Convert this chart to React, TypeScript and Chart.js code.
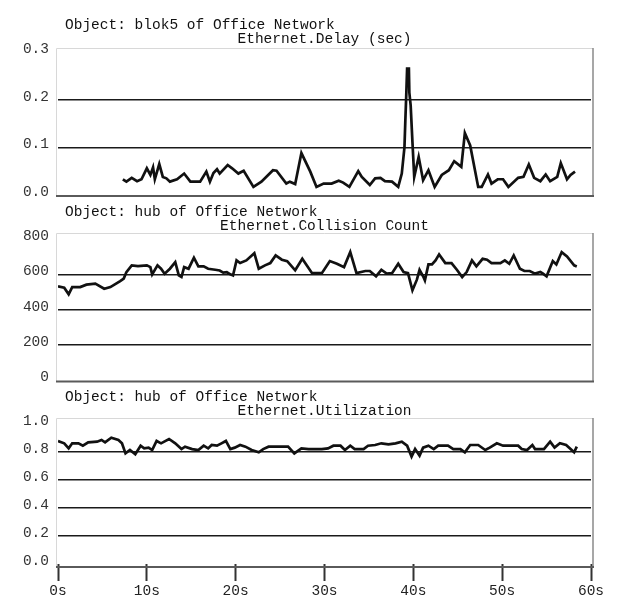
import React, { useEffect, useRef } from "react";
import { Chart, registerables } from "chart.js";

Chart.register(...registerables);

const FONT_FAMILY = "'Liberation Mono', 'DejaVu Sans Mono', monospace";

// Panel 1: Ethernet.Delay (sec)
const delayTimes = [
  7.3, 7.7, 8.3, 8.9, 9.4, 10.0, 10.4, 10.7, 10.9, 11.4, 11.8, 12.2, 12.6, 13.4, 14.2, 14.9,
  16.0, 16.7, 17.1, 17.5, 17.9, 18.2, 19.1, 19.6, 20.3, 20.9, 22.0, 22.9, 24.2, 24.6, 25.7,
  26.1, 26.7, 27.4, 28.4, 29.1, 29.9, 30.8, 31.6, 32.1, 32.8, 33.8, 34.2, 35.1, 35.7, 36.3,
  36.8, 37.6, 38.3, 38.7, 39.0, 39.1, 39.2, 39.3, 39.5, 39.55, 39.7, 39.9, 40.1, 40.6, 41.1,
  41.7, 42.4, 43.2, 44.0, 44.6, 45.4, 45.8, 46.4, 47.3, 47.7, 48.4, 48.8, 49.5, 50.1, 50.7,
  51.8, 52.4, 53.0, 53.6, 54.3, 54.9, 55.4, 56.2, 56.6, 57.3, 57.7, 58.2,
];
const delayValues = [
  0.033, 0.028, 0.036, 0.029, 0.033, 0.056, 0.042, 0.058, 0.033, 0.065, 0.038, 0.035, 0.028, 0.033, 0.045, 0.028,
  0.028, 0.049, 0.028, 0.046, 0.054, 0.045, 0.063, 0.056, 0.045, 0.051, 0.017, 0.028, 0.052, 0.051, 0.024,
  0.028, 0.023, 0.088, 0.049, 0.017, 0.024, 0.024, 0.030, 0.026, 0.017, 0.050, 0.038, 0.021, 0.035, 0.036,
  0.029, 0.028, 0.017, 0.045, 0.100, 0.156, 0.208, 0.265, 0.265, 0.215, 0.188, 0.111, 0.038, 0.080, 0.031,
  0.052, 0.017, 0.042, 0.052, 0.071, 0.059, 0.130, 0.104, 0.017, 0.017, 0.043, 0.024, 0.033, 0.033, 0.017,
  0.036, 0.038, 0.064, 0.036, 0.029, 0.043, 0.029, 0.038, 0.067, 0.033, 0.042, 0.049,
];

// Panel 2: Ethernet.Collision Count
const collisionTimes = [
  0.0, 0.7, 1.2, 1.6, 2.5, 3.2, 4.2, 5.2, 5.9, 7.0, 7.4, 7.7, 8.3, 9.0, 10.0, 10.4, 10.6, 11.2,
  11.6, 12.0, 12.6, 13.2, 13.6, 13.9, 14.2, 14.7, 15.3, 15.8, 16.4, 16.9, 17.7, 18.2, 18.6, 19.0,
  19.4, 19.7, 20.1, 20.5, 21.2, 22.1, 22.6, 23.3, 23.9, 24.5, 25.2, 25.8, 26.7, 27.5, 28.6, 29.7,
  30.6, 31.4, 32.2, 32.9, 33.6, 34.6, 35.1, 35.8, 36.4, 37.0, 37.6, 38.3, 38.9, 39.4, 39.9, 40.4,
  40.7, 41.1, 41.3, 41.7, 42.1, 42.5, 42.9, 43.6, 44.3, 44.9, 45.5, 46.0, 46.6, 47.1, 47.8, 48.3,
  48.8, 49.8, 50.3, 50.8, 51.3, 52.0, 52.5, 53.1, 53.7, 54.3, 54.6, 55.0, 55.7, 56.1, 56.7, 57.3,
  58.1, 58.4,
];
const collisionValues = [
  532, 525, 487, 528, 528, 542, 548, 519, 528, 562, 576, 613, 651, 647, 651, 641, 600, 651,
  632, 604, 632, 669, 594, 585, 641, 632, 694, 645, 645, 632, 626, 622, 610, 613,
  600, 594, 679, 664, 679, 720, 632, 651, 664, 707, 683, 675, 623, 688, 607, 607,
  675, 660, 641, 726, 607, 619, 619, 589, 626, 604, 607, 660, 613, 607, 510, 570,
  626, 589, 566, 656, 656, 679, 713, 664, 664, 626, 585, 613, 679, 645, 688, 683,
  664, 664, 679, 660, 707, 632, 619, 619, 604, 613, 604, 589, 675, 656, 726, 701,
  651, 645,
];

// Panel 3: Ethernet.Utilization
const utilTimes = [
  0.0, 0.7, 1.2, 1.6, 2.3, 2.8, 3.4, 4.4, 4.9, 5.3, 6.0, 6.8, 7.2, 7.6, 8.1, 8.7, 9.3, 9.7,
  10.2, 10.6, 11.1, 11.6, 12.5, 13.2, 13.9, 14.3, 15.1, 15.8, 16.4, 16.9, 17.3, 17.9, 18.4, 18.9,
  19.4, 19.9, 20.5, 21.1, 21.8, 22.6, 23.1, 23.7, 24.8, 25.9, 26.6, 27.4, 28.2, 28.9, 29.7, 30.4,
  31.0, 31.8, 32.3, 32.9, 33.4, 34.4, 34.9, 35.7, 36.4, 37.2, 38.0, 38.7, 39.3, 39.8, 40.2, 40.7,
  41.1, 41.7, 42.3, 42.8, 43.9, 44.5, 45.3, 45.8, 46.4, 47.3, 48.1, 48.6, 49.4, 50.1, 50.9, 51.8,
  52.2, 52.8, 53.4, 53.7, 54.7, 55.4, 55.9, 56.5, 57.2, 57.7, 58.1, 58.4,
];
const utilValues = [
  0.879, 0.862, 0.826, 0.862, 0.862, 0.845, 0.869, 0.874, 0.886, 0.869, 0.902, 0.886, 0.862, 0.790, 0.814, 0.784, 0.845, 0.826,
  0.831, 0.814, 0.879, 0.862, 0.893, 0.862, 0.821, 0.838, 0.821, 0.814, 0.845, 0.826, 0.850, 0.845, 0.862, 0.879,
  0.821, 0.831, 0.850, 0.838, 0.814, 0.798, 0.821, 0.838, 0.838, 0.838, 0.790, 0.826, 0.821, 0.821, 0.821, 0.826,
  0.845, 0.845, 0.814, 0.845, 0.821, 0.821, 0.845, 0.850, 0.862, 0.855, 0.862, 0.874, 0.845, 0.767, 0.821, 0.774,
  0.831, 0.845, 0.821, 0.845, 0.845, 0.821, 0.821, 0.798, 0.850, 0.850, 0.814, 0.831, 0.862, 0.845, 0.845, 0.845,
  0.821, 0.814, 0.850, 0.821, 0.821, 0.874, 0.831, 0.862, 0.850, 0.821, 0.798, 0.838,
];

const xTickLabels = ["0s", "10s", "20s", "30s", "40s", "50s", "60s"];

type PanelProps = {
  top: number;
  height: number;
  padTop: number;
  padBottom: number;
  frameTop: number;
  frameBottom: number;
  objectLabel: string;
  metricLabel: string;
  times: number[];
  values: number[];
  yMax: number;
  yStep: number;
  decimals: number;
  showX: boolean;
};

function Panel(p: PanelProps) {
  const ref = useRef<HTMLCanvasElement | null>(null);
  useEffect(() => {
    if (!ref.current) return;
    const decor = {
      id: "panelDecor",
      beforeDatasetsDraw(chart: any) {
        const { ctx, chartArea: a } = chart;
        ctx.save();
        const l = a.left - 2;
        const r = a.right + 2;
        const t = a.top - p.frameTop;
        const b = a.bottom + p.frameBottom;
        ctx.lineWidth = 1;
        ctx.strokeStyle = "#d8d8d8";
        ctx.beginPath();
        ctx.moveTo(l + 0.5, b);
        ctx.lineTo(l + 0.5, t + 0.5);
        ctx.lineTo(r, t + 0.5);
        ctx.stroke();
        ctx.strokeStyle = "#8a8a8a";
        ctx.lineWidth = 1.5;
        ctx.beginPath();
        ctx.moveTo(r, t);
        ctx.lineTo(r, b);
        ctx.stroke();
        ctx.strokeStyle = "#5a5a5a";
        ctx.lineWidth = 2;
        ctx.beginPath();
        ctx.moveTo(l, b);
        ctx.lineTo(r + 1, b);
        ctx.stroke();
        ctx.restore();
      },
      afterDraw(chart: any) {
        const { ctx, chartArea: a } = chart;
        ctx.save();
        ctx.fillStyle = "#111";
        ctx.font = `14.5px ${FONT_FAMILY}`;
        ctx.textBaseline = "alphabetic";
        ctx.textAlign = "left";
        ctx.fillText(p.objectLabel, a.left + 7, a.top - 23);
        ctx.textAlign = "center";
        ctx.fillText(p.metricLabel, (a.left + a.right) / 2, a.top - 9);
        ctx.restore();
      },
    };
    const chart = new Chart(ref.current, {
      type: "line",
      data: {
        datasets: [
          {
            data: p.times.map((t, i) => ({ x: t, y: p.values[i] })),
            borderColor: "#111",
            borderWidth: 2.7,
            pointRadius: 0,
            tension: 0,
            fill: false,
          },
        ],
      },
      options: {
        animation: false,
        responsive: false,
        events: [],
        layout: { padding: { left: 8, right: 27, top: p.padTop, bottom: p.padBottom } },
        plugins: {
          legend: { display: false },
          tooltip: { enabled: false },
          title: { display: false },
        },
        scales: {
          x: {
            type: "linear",
            min: 0,
            max: 60,
            display: p.showX,
            ticks: {
              stepSize: 10,
              callback: (v: any) => xTickLabels[Math.round(Number(v) / 10)] ?? "",
              font: { family: FONT_FAMILY, size: 14.5 },
              color: "#222",
              padding: 1,
              maxRotation: 0,
              autoSkip: false,
            },
            grid: {
              drawOnChartArea: false,
              drawTicks: true,
              tickLength: 17,
              tickColor: "#333",
              tickWidth: 2,
            },
            border: { display: false },
            afterFit: (s: any) => {
              if (p.showX) s.height = 43;
              else s.height = 0;
              s.paddingLeft = 0;
              s.paddingRight = 0;
              s.paddingTop = 0;
              s.paddingBottom = 0;
            },
          },
          y: {
            type: "linear",
            min: 0,
            max: p.yMax,
            ticks: {
              stepSize: p.yStep,
              callback: (v: any) => Number(v).toFixed(p.decimals),
              font: { family: FONT_FAMILY, size: 14.5 },
              color: "#333",
              padding: 9,
              labelOffset: -3,
            },
            grid: {
              color: (c: any) => {
                const v = c.tick ? c.tick.value : 0;
                return v <= 1e-9 || v >= p.yMax - 1e-9 ? "rgba(0,0,0,0)" : "#1a1a1a";
              },
              lineWidth: 1.6,
              drawTicks: false,
            },
            border: { display: false },
            afterFit: (s: any) => {
              s.width = 50;
              s.paddingTop = 0;
              s.paddingBottom = 0;
              s.paddingLeft = 0;
              s.paddingRight = 0;
            },
          },
        },
      } as any,
      plugins: [decor],
    });
    return () => chart.destroy();
  }, []);
  return (
    <canvas
      ref={ref}
      width={618}
      height={p.height}
      style={{ position: "absolute", left: 0, top: p.top, display: "block" }}
    />
  );
}

export default function App() {
  return (
    <div style={{ position: "absolute", left: 0, top: 0, width: 618, height: 607, background: "#fff" }}>
      <Panel
        top={0}
        height={200}
        padTop={52}
        padBottom={5}
        frameTop={4}
        frameBottom={1}
        objectLabel="Object: blok5 of Office Network"
        metricLabel="Ethernet.Delay (sec)"
        times={delayTimes}
        values={delayValues}
        yMax={0.3}
        yStep={0.1}
        decimals={1}
        showX={false}
      />
      <Panel
        top={200}
        height={185}
        padTop={39}
        padBottom={4.5}
        frameTop={6}
        frameBottom={1}
        objectLabel="Object: hub of Office Network"
        metricLabel="Ethernet.Collision Count"
        times={collisionTimes}
        values={collisionValues}
        yMax={800}
        yStep={200}
        decimals={0}
        showX={false}
      />
      <Panel
        top={385}
        height={222}
        padTop={39}
        padBottom={0}
        frameTop={6}
        frameBottom={3}
        objectLabel="Object: hub of Office Network"
        metricLabel="Ethernet.Utilization"
        times={utilTimes}
        values={utilValues}
        yMax={1.0}
        yStep={0.2}
        decimals={1}
        showX={true}
      />
    </div>
  );
}
